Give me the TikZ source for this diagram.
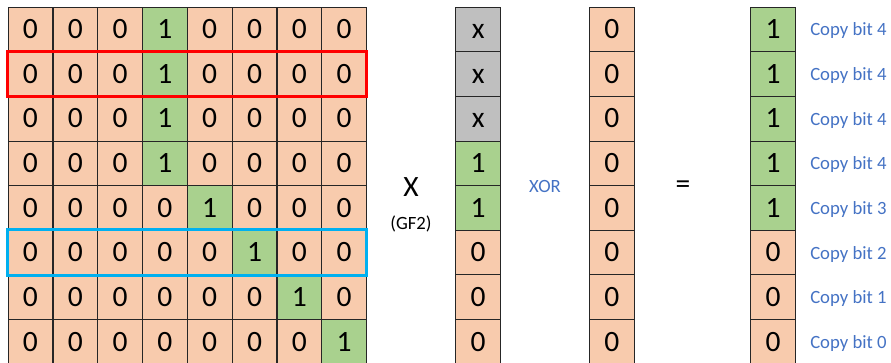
\documentclass[tikz,border=0pt]{standalone}
\usepackage{fontspec}
\setmainfont{Carlito}
\definecolor{peach}{HTML}{F8CBAD}
\definecolor{leaf}{HTML}{A9D18E}
\definecolor{greycell}{HTML}{BFBFBF}
\definecolor{noteblue}{HTML}{4472C4}
\definecolor{rowred}{HTML}{FF0000}
\definecolor{rowblue}{HTML}{00B0F0}

\begin{document}
\begin{tikzpicture}[x=1pt, y=-1pt,
	cell/.style={draw=black!85, line width=0.8pt, minimum width=44.65pt, minimum height=44.65pt,
		inner sep=0pt, text height=18.6pt, text depth=0pt, font=\fontsize{29.5}{29.5}\selectfont},
	zero/.style={cell, fill=peach},
	one/.style={cell, fill=leaf},
	dontcare/.style={cell, fill=greycell},
	note/.style={font=\fontsize{18.7}{20}\selectfont, text=noteblue},
	rowbox/.style={line width=3pt}]
	\useasboundingbox (0,0) rectangle (891,362);

	% matrix
	\foreach \r/\k in {0/3,1/3,2/3,3/3,4/4,5/5,6/6,7/7} {
		\foreach \c in {0,...,7} {
			\ifnum\c=\k \def\sty{one}\def\val{1}\else \def\sty{zero}\def\val{0}\fi
			\node [\sty] (m-\r-\c) at ({30.4+44.83*\c}, {29.3+44.65*\r}) {\val};
		}
	}
	\draw [rowbox, rowred] (m-1-0.north west) rectangle (m-1-7.south east);
	\draw [rowbox, rowblue] (m-5-0.north west) rectangle (m-5-7.south east);

	% vectors
	\foreach \r/\v/\s in {0/x/dontcare,1/x/dontcare,2/x/dontcare,3/1/one,4/1/one,5/0/zero,6/0/zero,7/0/zero}
		\node [\s] (v-\r) at (478.2, {29.3+44.65*\r}) {\v};
	\foreach \r in {0,...,7}
		\node [zero] (z-\r) at (611.9, {29.3+44.65*\r}) {0};
	\foreach \r/\v/\s/\b in {0/1/one/4,1/1/one/4,2/1/one/4,3/1/one/4,4/1/one/3,5/0/zero/2,6/0/zero/1,7/0/zero/0} {
		\node [\s] (res-\r) at (773, {29.3+44.65*\r}) {\v};
		\node [note, anchor=west] (lbl-\r) at ([xshift=11pt, yshift=-1.5pt]res-\r.east) {Copy bit \b};
	}

	% operators
	\node [font=\fontsize{29.5}{29.5}\selectfont] (times) at (411,187) {X};
	\node [font=\fontsize{18.7}{20}\selectfont] (gf) at (411,224) {(GF2)};
	\node [note] (xor) at (545,186) {XOR};
	\node [font=\fontsize{29.5}{29.5}\selectfont] (eq) at (683,187) {=};
\end{tikzpicture}
\end{document}
